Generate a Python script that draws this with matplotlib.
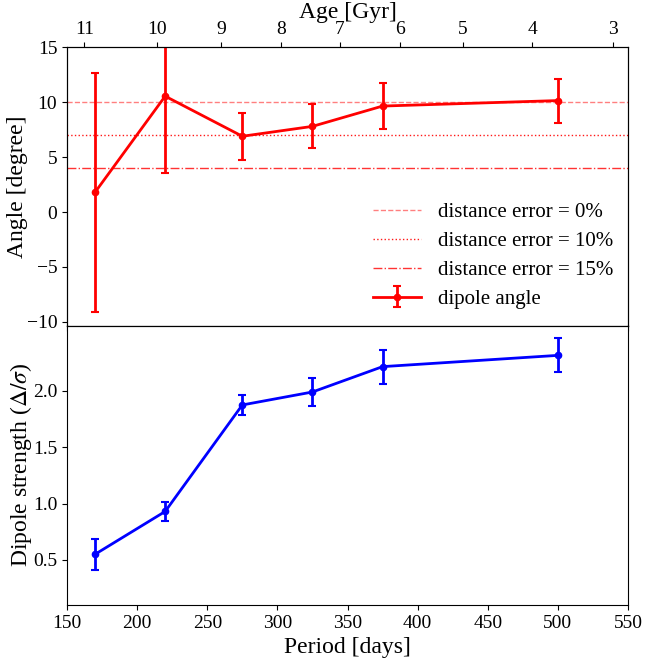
import matplotlib
matplotlib.use("Agg")
import matplotlib.pyplot as plt

plt.rcParams['font.family'] = ['Liberation Serif', 'DejaVu Serif']
plt.rcParams['mathtext.fontset'] = 'stix'
plt.rcParams['font.size'] = 14

# Data
period = [170, 220, 275, 325, 375, 500]
angle = [1.8, 10.55, 6.9, 7.8, 9.65, 10.15]
angle_err = [10.9, 6.95, 2.15, 2.0, 2.1, 2.0]
strength = [0.55, 0.93, 1.875, 1.99, 2.215, 2.315]
strength_err = [0.14, 0.085, 0.09, 0.125, 0.15, 0.15]

dist_err_labels = ['distance error = 0%', 'distance error = 10%', 'distance error = 15%']
dist_err_angles = [10, 7, 4]
dist_err_styles = ['--', ':', '-.']
dist_err_alpha = [0.5, 0.9, 0.8]

age_ticks = ['11', '10', '9', '8', '7', '6', '5', '4', '3']
age_tick_periods = [162.3, 213.9, 259.7, 302.5, 344.7, 387.4, 432.3, 481.7, 539.5]

fig = plt.figure(figsize=(6.46, 6.6), dpi=100)
left, right = 67/646, 628/646
ax1 = fig.add_axes([left, 1-325.5/660, right-left, (325.5-47.3)/660])
ax2 = fig.add_axes([left, 1-605/660, right-left, (605-325.5)/660])

for y, ls, a, lab in zip(dist_err_angles, dist_err_styles, dist_err_alpha, dist_err_labels):
    ax1.axhline(y, color='red', ls=ls, lw=1, alpha=a, label=lab)

ax1.errorbar(period, angle, yerr=angle_err, color='red', lw=2, marker='o',
             markersize=4.5, capsize=3, elinewidth=2, capthick=1.5, label='dipole angle')
ax1.set_xlim(150, 550)
ax1.set_ylim(-10.33, 15)
ax1.set_yticks([-10, -5, 0, 5, 10, 15])
ax1.tick_params(axis='x', bottom=False, labelbottom=False)
ax1.set_ylabel('Angle [degree]', fontsize=17, labelpad=-1)
ax1.legend(loc='lower right', frameon=False, fontsize=15, handlelength=2.3,
           borderaxespad=0.4, labelspacing=0.45, bbox_to_anchor=(1.003, 0.0))

axt = ax1.twiny()
axt.set_xlim(150, 550)
axt.set_xticks(age_tick_periods)
axt.set_xticklabels(age_ticks)
axt.set_xlabel('Age [Gyr]', fontsize=17, labelpad=2)

ax2.errorbar(period, strength, yerr=strength_err, color='blue', lw=2, marker='o',
             markersize=4.5, capsize=3, elinewidth=2, capthick=1.5)
ax2.set_xlim(150, 550)
ax2.set_ylim(0.1, 2.58)
ax2.set_yticks([0.5, 1.0, 1.5, 2.0])
ax2.set_xticks([150, 200, 250, 300, 350, 400, 450, 500, 550])
ax2.set_xlabel('Period [days]', fontsize=17)
ax2.set_ylabel(r'Dipole strength ($\mathit{\Delta}/\sigma$)', fontsize=17, labelpad=-1)

fig.align_ylabels([ax1, ax2])
fig.savefig('out.png', dpi=100)
